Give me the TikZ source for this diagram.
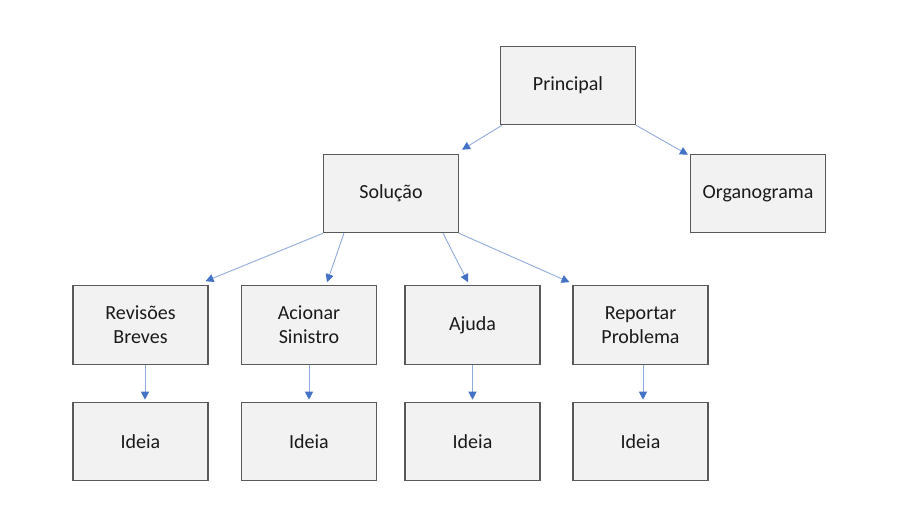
\documentclass[tikz,border=0pt]{standalone}
\usepackage{fontspec}
\setmainfont{Carlito}
\usetikzlibrary{arrows.meta,calc}
\definecolor{boxfill}{HTML}{F2F2F2}
\definecolor{boxline}{HTML}{595959}
\definecolor{lineblue}{HTML}{8FAADC}
\definecolor{tipblue}{HTML}{4472C4}
\definecolor{txt}{HTML}{1A1A1A}
\begin{document}
\begin{tikzpicture}[x=1pt,y=-1pt,
  box/.style={draw=boxline,line width=1.1pt,fill=boxfill,minimum width=135pt,minimum height=78.5pt,
    inner sep=0pt,align=center,text=txt,font=\fontsize{20}{24}\selectfont},
  conn/.style={draw=lineblue,line width=0.9pt,-{Triangle[length=8pt,width=8pt,fill=tipblue,color=tipblue]}}]
\useasboundingbox (0,0) rectangle (916,506);
\node[box] (p) at (568,85.5) {Principal};
\node[box] (s) at (391,193.5) {Solução};
\node[box] (o) at (758,193.5) {Organograma};
\node[box] (r1) at (140.5,325) {Revisões\\Breves};
\node[box] (r2) at (309,325) {Acionar\\Sinistro};
\node[box] (r3) at (472.5,325) {Ajuda};
\node[box] (r4) at (640.5,325) {Reportar\\Problema};
\node[box] (i1) at (140.5,441.5) {Ideia};
\node[box] (i2) at (309,441.5) {Ideia};
\node[box] (i3) at (472.5,441.5) {Ideia};
\node[box] (i4) at (640.5,441.5) {Ideia};
\draw[conn] ($(p.south west)+(2,0)$) -- ($(s.north east)+(3,-4)$);
\draw[conn] (p.south east) -- ($(o.north west)+(-2,1)$);
\draw[conn] (s.south west) -- ($(r1.north east)+(-3,-4)$);
\draw[conn] ($(s.south west)+(21,0)$) -- ($(r2.north)+(18,-3)$);
\draw[conn] ($(s.south east)+(-16,0)$) -- ($(r3.north)+(-4.5,-3)$);
\draw[conn] (s.south east) -- ($(r4.north west)+(-3,-3)$);
\draw[conn] ($(r1.south)+(4.5,0)$) -- ($(i1.north)+(4.5,-2)$);
\draw[conn] (r2.south) -- ($(i2.north)+(0,-2)$);
\draw[conn] (r3.south) -- ($(i3.north)+(0,-2)$);
\draw[conn] ($(r4.south)+(2.5,0)$) -- ($(i4.north)+(2.5,-2)$);
\end{tikzpicture}
\end{document}
